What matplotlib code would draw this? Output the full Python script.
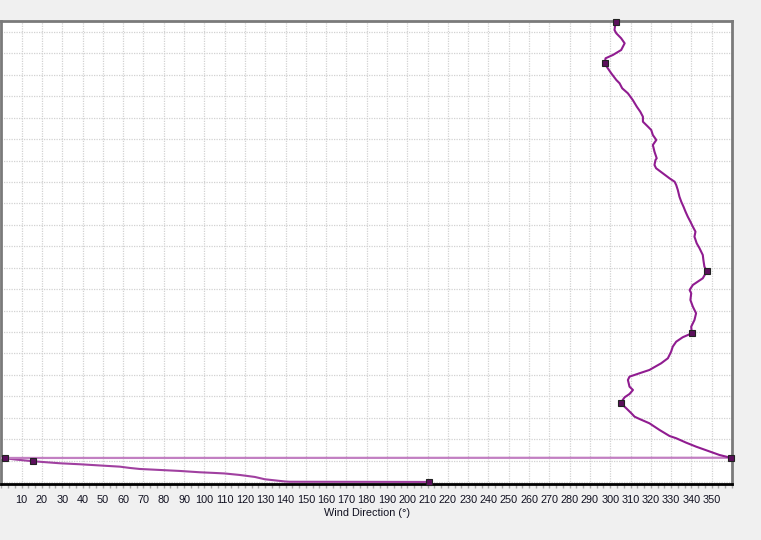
import matplotlib
matplotlib.use("Agg")
from matplotlib import pyplot as plt
from matplotlib.ticker import MultipleLocator
import numpy as np

# wind direction profile (deg) against altitude (m), ground upwards
direction = [210.5, 175.0, 142.0, 139.6, 129.8, 124.9, 117.5, 110.1, 105.2, 97.8,
             87.9, 78.1, 68.2, 63.3, 58.4, 48.5, 38.7, 28.9, 15.7, 6.7,
             1.8, 0.3, 359.3,
             353.8, 342.3, 337.4, 332.5, 329.2, 324.3, 319.3, 314.4, 312.0, 310.4,
             307.9, 305.1, 307.1, 309.5, 311.2, 309.5, 308.7, 309.5, 314.4, 319.3,
             325.1, 328.4, 330.0, 330.8, 332.5, 335.7, 340.2, 339.9, 341.5, 342.3,
             340.7, 339.5, 339.9, 339.1, 340.7, 343.1, 345.6, 347.6, 346.4, 345.9,
             345.6, 344.0, 342.6, 341.5, 342.0, 340.7, 339.5, 338.2, 337.1, 336.1,
             335.0, 334.1, 333.3, 332.5, 331.7, 329.2, 325.9, 322.6, 321.8, 322.3,
             322.9, 321.8, 321.0, 322.7, 321.0, 320.2, 318.6, 316.1, 316.1, 314.8,
             313.1, 311.1, 308.7, 305.9, 304.6, 303.0, 300.5, 298.8, 297.2, 297.7,
             301.3, 305.4, 307.1, 305.4, 303.0, 302.1, 302.6]
altitude = [0, 3, 5, 12, 63, 117, 163, 198, 210, 226,
            257, 280, 303, 327, 357, 385, 413, 436, 483, 525,
            553, 560, 565,
            630, 824, 917, 1020, 1073, 1213, 1369, 1470, 1523, 1603,
            1719, 1843, 1976, 2053, 2146, 2223, 2380, 2457, 2536, 2613,
            2769, 2886, 3040, 3157, 3273, 3376, 3469, 3623, 3779, 3936,
            4090, 4246, 4402, 4479, 4596, 4673, 4752, 4916, 5023, 5179,
            5296, 5452, 5569, 5723, 5840, 5956, 6073, 6190, 6306, 6423,
            6539, 6656, 6812, 6929, 7006, 7085, 7202, 7319, 7396, 7512,
            7552, 7706, 7862, 7979, 8095, 8212, 8289, 8406, 8522, 8639,
            8755, 8912, 9068, 9185, 9302, 9379, 9535, 9652, 9768, 9885,
            9962, 10079, 10235, 10351, 10468, 10545, 10725]

# reported levels (square markers)
level_dir = [210.5, 15.7, 1.8, 359.3, 305.1, 340.2, 347.6, 297.2, 302.6]
level_alt = [0, 483, 553, 565, 1843, 3469, 4916, 9768, 10725]

xticks = list(range(10, 360, 10))

plt.rcParams['font.family'] = ['Liberation Sans', 'DejaVu Sans']

fig = plt.figure(figsize=(7.61, 5.40), dpi=100, facecolor='#f0f0f0')
ax = fig.add_axes([0.0018, 0.1043, 0.9601, 0.8568])
ax.set_facecolor('white')

# split where the direction wraps past north
w = 21
ax.plot(direction[:w + 1], altitude[:w + 1], color='#a040a0', lw=1.5, zorder=3)
ax.plot(direction[w:w + 2], altitude[w:w + 2], color='#c27fc2', lw=1.6, zorder=3)
ax.plot(direction[w + 1:], altitude[w + 1:], color='#901c90', lw=1.5, zorder=3)
ax.plot(level_dir, level_alt, ls='none', marker='s', ms=4.8,
        mfc='#5c0f5c', mec='#222222', mew=0.8, zorder=4, clip_on=False)

ax.set_xlim(0, 360)
ax.set_ylim(-40, 10755)
ax.set_xticks(xticks)
ax.xaxis.set_minor_locator(MultipleLocator(10 / 3))
ax.set_yticks(np.arange(0, 10501, 500))
ax.tick_params(axis='y', length=0, labelleft=False)
ax.tick_params(axis='x', which='both', length=3, width=1, color='#a8a8a8',
               labelsize=7.8, pad=5, labelcolor='#101020')
ax.grid(True, color='#d2d2d2', lw=0.9, ls=(0, (1, 1)))
ax.set_axisbelow(True)
ax.set_xlabel('Wind Direction (°)', fontsize=7.8, labelpad=2, color='#101020')

for side in ['top', 'left', 'right']:
    ax.spines[side].set_color('#7a7a7a')
    ax.spines[side].set_linewidth(2)
ax.spines['bottom'].set_color('black')
ax.spines['bottom'].set_linewidth(2)

plt.savefig('out.png', dpi=100, facecolor=fig.get_facecolor())
